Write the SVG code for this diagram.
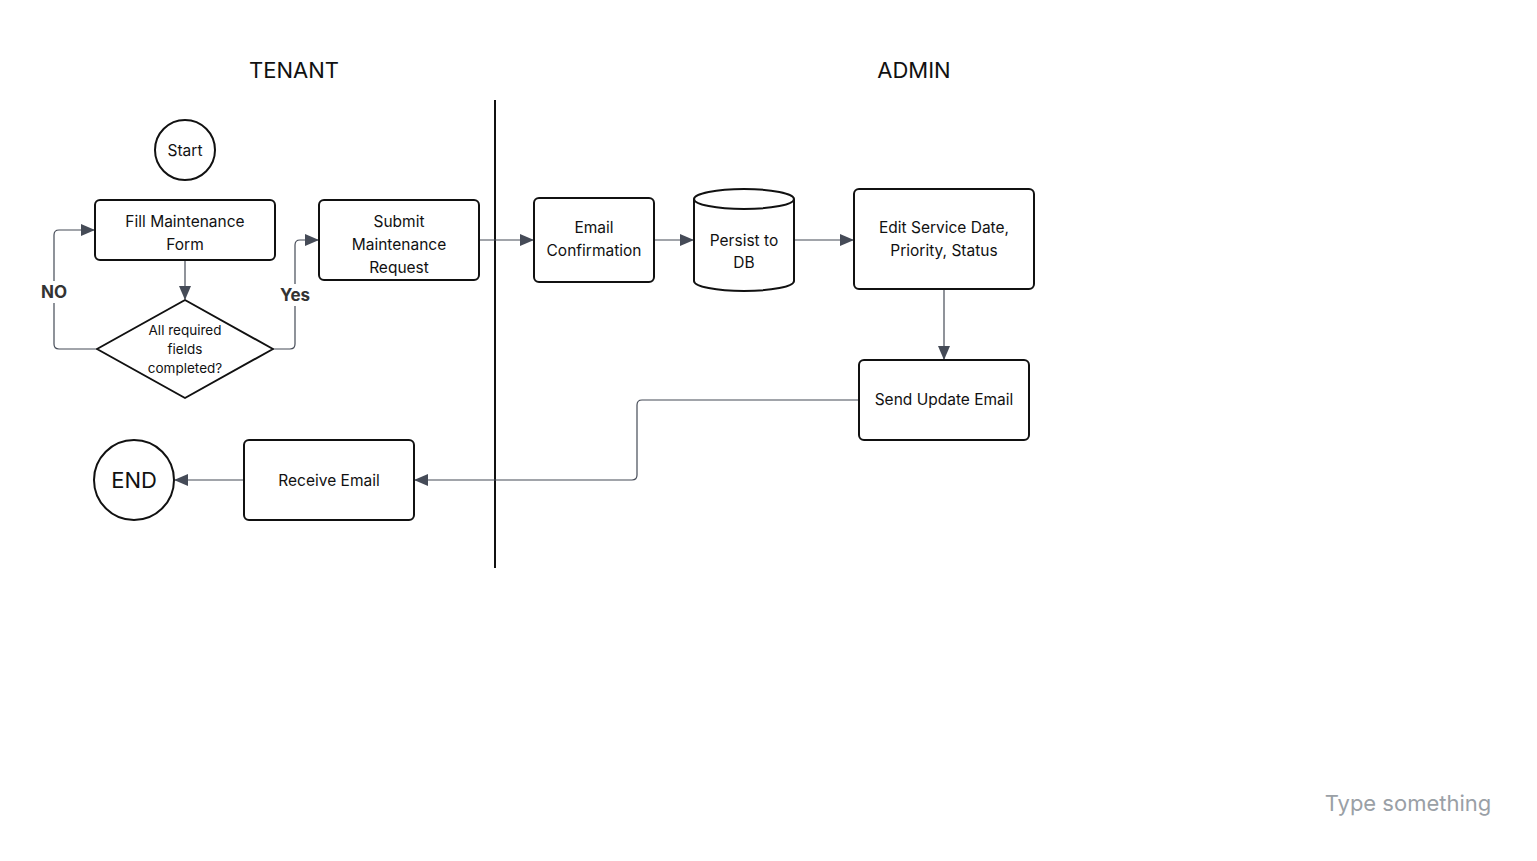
<svg xmlns="http://www.w3.org/2000/svg" width="1537" height="861" viewBox="0 0 1537 861">
<defs>
<marker id="arr" markerUnits="userSpaceOnUse" markerWidth="14" markerHeight="12" refX="13" refY="6" orient="auto">
<path d="M0,0 L14,6 L0,12 Z" fill="#454b57"/>
</marker>
<style>
text{font-family:Inter,"Noto Sans","Liberation Sans",sans-serif;fill:#111;text-anchor:middle;dominant-baseline:central}
.n{fill:#fff;stroke:#111;stroke-width:2}
.t{font-size:15.5px}
.h{font-size:22px}
.d{font-size:13.5px}
.c{fill:none;stroke:#454b57;stroke-width:1.2;marker-end:url(#arr)}
.lb{font-size:17px;font-weight:bold;fill:#333}
</style>
</defs>
<rect width="1537" height="861" fill="#fff"/>
<text class="h" x="294" y="70">TENANT</text>
<text class="h" x="914" y="70">ADMIN</text>
<line x1="495" y1="100" x2="495" y2="568" stroke="#111" stroke-width="2"/>
<g id="connectors">
<path class="c" d="M185,260 V299"/>
<path class="c" d="M97,349 H59 Q54,349 54,344 V235 Q54,230 59,230 H94"/>
<path class="c" d="M273,349 H290 Q295,349 295,344 V245 Q295,240 300,240 H318"/>
<path class="c" d="M479,240 H533"/>
<path class="c" d="M654,240 H693"/>
<path class="c" d="M794,240 H853"/>
<path class="c" d="M944,289 V359"/>
<path class="c" d="M859,400 H642 Q637,400 637,405 V475 Q637,480 632,480 H415"/>
<path class="c" d="M244,480 H175"/>
<rect x="38" y="281" width="32" height="22" fill="#fff"/>
<text class="lb" x="54" y="292">NO</text>
<rect x="278" y="284" width="34" height="22" fill="#fff"/>
<text class="lb" x="295" y="295">Yes</text>
</g>
<g id="start">
<circle class="n" cx="185" cy="150" r="30"/>
<text class="t" x="185" y="150">Start</text>
</g>
<g id="fill">
<rect class="n" x="95" y="200" width="180" height="60" rx="5"/>
<text class="t" x="185" y="221">Fill Maintenance</text>
<text class="t" x="185" y="244">Form</text>
</g>
<g id="decision">
<path class="n" d="M185,300 L273,349 L185,398 L97,349 Z" stroke-linejoin="round"/>
<text class="d" x="185" y="330">All required</text>
<text class="d" x="185" y="349">fields</text>
<text class="d" x="185" y="368">completed?</text>
</g>
<g id="submit">
<rect class="n" x="319" y="200" width="160" height="80" rx="5"/>
<text class="t" x="399" y="221">Submit</text>
<text class="t" x="399" y="244">Maintenance</text>
<text class="t" x="399" y="267">Request</text>
</g>
<g id="emailconf">
<rect class="n" x="534" y="198" width="120" height="84" rx="5"/>
<text class="t" x="594" y="227">Email</text>
<text class="t" x="594" y="250">Confirmation</text>
</g>
<g id="db">
<path class="n" d="M694,199 V281 A50,10 0 0 0 794,281 V199 A50,10 0 0 0 694,199 Z"/>
<path d="M694,199 A50,10 0 0 0 794,199" fill="none" stroke="#111" stroke-width="2"/>
<text class="t" x="744" y="240">Persist to</text>
<text class="t" x="744" y="262">DB</text>
</g>
<g id="edit">
<rect class="n" x="854" y="189" width="180" height="100" rx="5"/>
<text class="t" x="944" y="227">Edit Service Date,</text>
<text class="t" x="944" y="250">Priority, Status</text>
</g>
<g id="send">
<rect class="n" x="859" y="360" width="170" height="80" rx="5"/>
<text class="t" x="944" y="399">Send Update Email</text>
</g>
<g id="receive">
<rect class="n" x="244" y="440" width="170" height="80" rx="5"/>
<text class="t" x="329" y="480">Receive Email</text>
</g>
<g id="end">
<circle class="n" cx="134" cy="480" r="40"/>
<text class="h" x="134" y="480">END</text>
</g>
<text x="1408" y="803" font-size="22" style="fill:#9aa0a6">Type something</text>
</svg>
